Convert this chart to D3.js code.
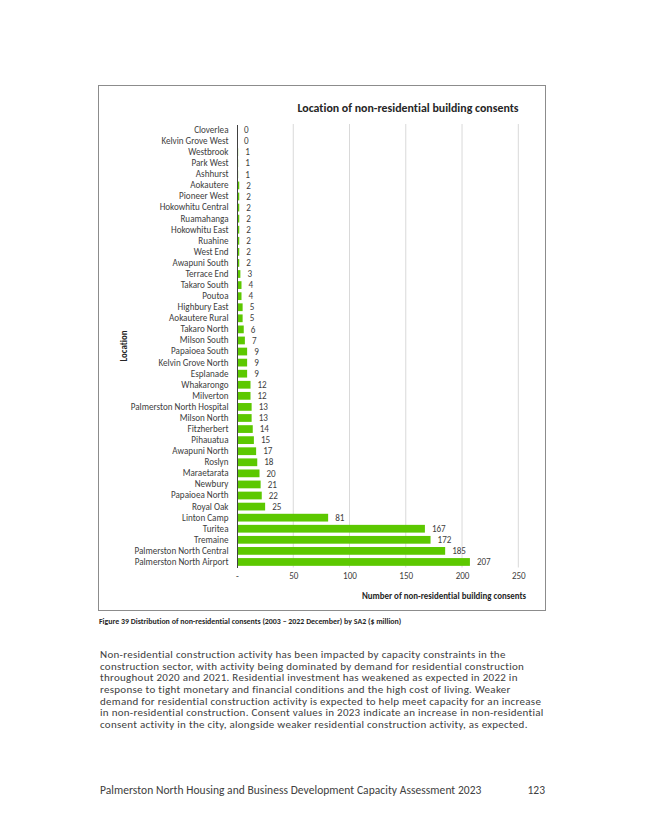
<!DOCTYPE html>
<html><head><meta charset="utf-8">
<script src="https://cdn.jsdelivr.net/npm/d3@7"></script>
<style>
body{margin:0;background:#fff;}
svg{display:block;font-family:Carlito, Lato, "Open Sans", sans-serif;font-variant-ligatures:none;}
</style></head>
<body>
<script>
const categories = ["Cloverlea","Kelvin Grove West","Westbrook","Park West","Ashhurst","Aokautere","Pioneer West","Hokowhitu Central","Ruamahanga","Hokowhitu East","Ruahine","West End","Awapuni South","Terrace End","Takaro South","Poutoa","Highbury East","Aokautere Rural","Takaro North","Milson South","Papaioea South","Kelvin Grove North","Esplanade","Whakarongo","Milverton","Palmerston North Hospital","Milson North","Fitzherbert","Pihauatua","Awapuni North","Roslyn","Maraetarata","Newbury","Papaioea North","Royal Oak","Linton Camp","Turitea","Tremaine","Palmerston North Central","Palmerston North Airport"];
const values = [0,0,1,1,1,2,2,2,2,2,2,2,2,3,4,4,5,5,6,7,9,9,9,12,12,13,13,14,15,17,18,20,21,22,25,81,167,172,185,207];
const xTicks = [0,50,100,150,200,250];
const chartTitle = "Location of non-residential building consents";
const xTitle = "Number of non-residential building consents";
const yTitle = "Location";
const caption = "Figure 39 Distribution of non-residential consents (2003 \u2013 2022 December) by SA2 ($ million)";
const paragraph = [
 "Non-residential construction activity has been impacted by capacity constraints in the",
 "construction sector, with activity being dominated by demand for residential construction",
 "throughout 2020 and 2021. Residential investment has weakened as expected in 2022 in",
 "response to tight monetary and financial conditions and the high cost of living. Weaker",
 "demand for residential construction activity is expected to help meet capacity for an increase",
 "in non-residential construction. Consent values in 2023 indicate an increase in non-residential",
 "consent activity in the city, alongside weaker residential construction activity, as expected."
];
const footer = "Palmerston North Housing and Business Development Capacity Assessment 2023";
const pageNum = "123";

const W = 645, H = 834;
const svg = d3.select("body").append("svg").attr("width", W).attr("height", H);

// chart frame
svg.append("rect").attr("x",98.5).attr("y",85.5).attr("width",447).attr("height",525)
  .attr("fill","#fff").attr("stroke","#8c8c8c").attr("stroke-width",1);

const x = d3.scaleLinear().domain([0,250]).range([237,518.3]);
const y = d3.scaleBand().domain(categories).range([124.5,567.5]).paddingInner(0.3).paddingOuter(0.15);

// gridlines
svg.append("g").selectAll("line").data(xTicks.slice(1)).join("line")
  .attr("x1",d=>x(d)).attr("x2",d=>x(d)).attr("y1",124).attr("y2",567.5)
  .attr("stroke","#d9d9d9").attr("stroke-width",1);

// bars
svg.append("g").selectAll("rect").data(values).join("rect")
  .attr("x",x(0)).attr("y",(d,i)=>y(categories[i]))
  .attr("width",d=>x(d)-x(0)).attr("height",y.bandwidth())
  .attr("fill","#5cc800");

// value labels
svg.append("g").selectAll("text").data(values).join("text")
  .attr("x",d=>x(d)+7).attr("y",(d,i)=>y(categories[i])+y.bandwidth()/2)
  .attr("dy","0.35em").attr("font-size",9.1).attr("fill","#404040").text(d=>d);

// y axis
const yAxis = d3.axisLeft(y).tickSize(0).tickPadding(8.5);
const gy = svg.append("g").attr("transform",`translate(${x(0)},0)`).call(yAxis);
gy.attr("font-family",null);
gy.select(".domain").attr("stroke","#404040").attr("stroke-width",1);
gy.selectAll("text").attr("font-size",9.1).attr("fill","#404040");

// x axis (labels only)
const xAxis = d3.axisBottom(x).tickValues(xTicks).tickSize(0).tickPadding(0)
  .tickFormat(d=> d===0 ? "-" : d);
const gx = svg.append("g").attr("transform",`translate(0,576)`).call(xAxis);
gx.select(".domain").remove();
gx.attr("font-family",null);
gx.selectAll("text").attr("font-size",9.1).attr("fill","#404040").attr("dy","0.35em");

// titles
svg.append("text").attr("x",408).attr("y",108).attr("text-anchor","middle").attr("dy","0.35em")
  .attr("font-size",11.9).attr("font-weight","bold").attr("fill","#262626").text(chartTitle);
svg.append("text").attr("x",526).attr("y",596).attr("text-anchor","end").attr("dy","0.35em")
  .attr("font-size",8.9).attr("font-weight","bold").attr("fill","#262626").text(xTitle);
svg.append("text").attr("transform","translate(124,346) rotate(-90)").attr("text-anchor","middle").attr("dy","0.35em")
  .attr("font-size",8.9).attr("font-weight","bold").attr("fill","#262626").text(yTitle);

// caption
svg.append("text").attr("x",99).attr("y",621).attr("dy","0.35em")
  .attr("font-size",7.9).attr("font-weight","bold").attr("fill","#262626").text(caption);

// paragraph
svg.append("g").selectAll("text").data(paragraph).join("text")
  .attr("x",100).attr("y",(d,i)=>654+i*11.7).attr("dy","0.35em")
  .attr("font-size",11).attr("letter-spacing",0.28).attr("fill","#404040").text(d=>d);

// footer
svg.append("text").attr("x",100).attr("y",790).attr("dy","0.35em")
  .attr("font-size",11.5).attr("letter-spacing",0.05).attr("fill","#404040").text(footer);
svg.append("text").attr("x",545).attr("y",790).attr("dy","0.35em").attr("text-anchor","end")
  .attr("font-size",11.5).attr("fill","#404040").text(pageNum);
</script>
</body></html>
